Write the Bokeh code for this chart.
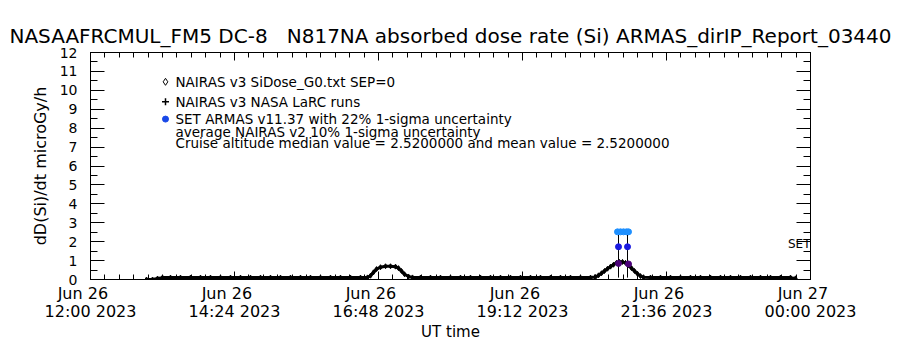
from bokeh.plotting import figure
from bokeh.models import Range1d, LinearAxis, FixedTicker, Label, ColumnDataSource
from bokeh.embed import file_html
from bokeh.resources import INLINE

FONT = "DejaVu Sans"
NB = "\u00a0"

title_text = "NASAAFRCMUL_FM5 DC-8" + NB * 3 + "N817NA absorbed dose rate (Si) ARMAS_dirIP_Report_03440"
y_title = "dD(Si)/dt microGy/h"
x_title = "UT time"

# x tick labels (minutes after Jun 26 12:00 UT)
x_tick_minutes = [0, 144, 288, 432, 576, 720]
x_tick_labels = ["Jun 26\n12:00 2023", "Jun 26\n14:24 2023", "Jun 26\n16:48 2023",
                 "Jun 26\n19:12 2023", "Jun 26\n21:36 2023", "Jun 27\n00:00 2023"]
y_ticks = list(range(0, 13))

legend_labels = ["NAIRAS v3 SiDose_G0.txt SEP=0",
                 "NAIRAS v3 NASA LaRC runs",
                 "SET ARMAS v11.37 with 22% 1-sigma uncertainty",
                 "average NAIRAS v2 10% 1-sigma uncertainty",
                 "Cruise altitude median value = 2.5200000 and mean value = 2.5200000"]

# NAIRAS v3 model dose rate along the flight (UT, microGy/h)
nairas_time = ["12:56", "13:02", "13:07", "13:12",
               "13:20", "13:30", "13:40", "13:50", "14:00", "14:10", "14:20", "14:30", "14:40", "14:50",
               "15:00", "15:10", "15:20", "15:30", "15:40", "15:50", "16:00", "16:10", "16:20", "16:30",
               "16:37", "16:40", "16:43", "16:46", "16:50", "16:55", "17:00", "17:05", "17:08", "17:11",
               "17:14", "17:18", "17:22",
               "17:30", "17:40", "17:50", "18:00", "18:10", "18:20", "18:30", "18:40", "18:50", "19:00",
               "19:10", "19:20", "19:30", "19:40", "19:50", "20:00", "20:10", "20:20",
               "20:25", "20:28", "20:31", "20:34", "20:37", "20:40", "20:43", "20:46", "20:49", "20:52",
               "20:55", "20:58", "21:01", "21:04", "21:07", "21:10", "21:13",
               "21:20", "21:30", "21:40", "21:50", "22:00", "22:10", "22:20", "22:30", "22:40", "22:50",
               "23:00", "23:10", "23:20", "23:30", "23:40", "23:45"]
nairas_dose = [0.0, 0.0, 0.05, 0.1,
               0.1, 0.1, 0.1, 0.1, 0.1, 0.1, 0.1, 0.1, 0.1, 0.1,
               0.1, 0.1, 0.1, 0.1, 0.1, 0.1, 0.1, 0.1, 0.1, 0.1,
               0.11, 0.2, 0.38, 0.55, 0.65, 0.7, 0.7, 0.68, 0.6, 0.45,
               0.28, 0.16, 0.11,
               0.1, 0.1, 0.1, 0.1, 0.1, 0.1, 0.1, 0.1, 0.1, 0.1,
               0.1, 0.1, 0.1, 0.1, 0.1, 0.1, 0.1, 0.1,
               0.13, 0.22, 0.33, 0.45, 0.57, 0.68, 0.78, 0.88, 0.93, 0.93,
               0.88, 0.75, 0.6, 0.45, 0.3, 0.18, 0.12,
               0.1, 0.1, 0.1, 0.1, 0.1, 0.1, 0.1, 0.1, 0.1, 0.1,
               0.1, 0.1, 0.1, 0.1, 0.1, 0.06]

# SET ARMAS measurements
armas_time = ["20:48", "20:57"]
armas_dose = [1.73, 1.73]
armas_err_low = [0.1, 0.1]
armas_err_high = [2.52, 2.52]
# NAIRAS v2 average at ARMAS times
nairas2_time = ["20:48", "20:58"]
nairas2_dose = [0.85, 0.82]
# cruise altitude median
cruise_time = ["20:47", "20:50", "20:53", "20:56", "20:58"]
cruise_dose = [2.52, 2.52, 2.52, 2.52, 2.52]


def minutes(t):
    h, m = t.split(":")
    return (int(h) - 12) * 60 + int(m)


p = figure(width=900, height=350, output_backend="svg", toolbar_location=None,
           x_range=Range1d(0, 720), y_range=Range1d(0, 12),
           x_axis_location=None, y_axis_location=None,
           min_border_left=90, min_border_right=90, min_border_top=52, min_border_bottom=71,
           background_fill_color="white", border_fill_color="white")
p.grid.visible = False
p.outline_line_color = "black"
p.outline_line_width = 1

p.title.text = title_text
p.title.text_font = FONT
p.title.text_font_size = "20px"
p.title.text_font_style = "normal"
p.title.align = "center"
p.title.text_color = "black"

x_minor = [i * 14.4 for i in range(51)]
y_minor = [i * 0.5 for i in range(25)]


def style_axis(ax, maj_in, min_in):
    ax.axis_line_color = "black"
    ax.major_tick_in = maj_in
    ax.major_tick_out = 0
    ax.minor_tick_in = min_in
    ax.minor_tick_out = 0
    ax.major_tick_line_color = "black"
    ax.minor_tick_line_color = "black"
    ax.major_label_text_font = FONT
    ax.major_label_text_color = "black"
    ax.axis_label_text_font = FONT
    ax.axis_label_text_font_style = "normal"
    ax.axis_label_text_color = "black"


def tick_only_axis(minor_ticks, length):
    ax = LinearAxis(ticker=FixedTicker(ticks=[], minor_ticks=minor_ticks))
    style_axis(ax, length, length)
    ax.major_label_standoff = 0
    return ax


bottom = LinearAxis(ticker=FixedTicker(ticks=x_tick_minutes, minor_ticks=x_minor))
style_axis(bottom, 8, 5)
bottom.major_label_overrides = {k: v.replace("\n", NB * 3 + "\n", 1)
                                for k, v in zip(x_tick_minutes, x_tick_labels)}
bottom.major_label_text_font_size = "16px"
bottom.major_label_text_line_height = 0.95
bottom.major_label_standoff = 4
bottom.axis_label = x_title
bottom.axis_label_text_font_size = "15px"
bottom.axis_label_standoff = -1
p.add_layout(bottom, "below")

p.add_layout(tick_only_axis(x_tick_minutes, 8), "above")
p.add_layout(tick_only_axis(x_minor, 5), "above")

left = LinearAxis(ticker=FixedTicker(ticks=y_ticks, minor_ticks=y_minor))
style_axis(left, 14, 7)
left.major_label_text_font_size = "14px"
left.major_label_standoff = 13
left.axis_label = y_title
left.axis_label_text_font_size = "16px"
left.axis_label_standoff = 7
p.add_layout(left, "left")

p.add_layout(tick_only_axis(y_ticks, 14), "right")
p.add_layout(tick_only_axis(y_minor, 7), "right")

# data
src_n = ColumnDataSource(dict(x=[minutes(t) for t in nairas_time], y=nairas_dose))
p.line("x", "y", source=src_n, line_color="black", line_width=3)
p.scatter("x", "y", source=src_n, marker="diamond", size=5, line_color="black", fill_color="black")

p.segment(x0=[minutes(t) for t in armas_time], y0=armas_err_low,
          x1=[minutes(t) for t in armas_time], y1=armas_err_high, line_color="black", line_width=1)
p.scatter([minutes(t) for t in cruise_time], cruise_dose, marker="circle", size=6,
          line_color="#1e90ff", fill_color="#1e90ff")
p.scatter([minutes(t) for t in armas_time], armas_dose, marker="circle", size=6,
          line_color="#1a1ae0", fill_color="#1a1ae0")
p.scatter([minutes(t) for t in nairas2_time], nairas2_dose, marker="circle", size=6,
          line_color="#4b0078", fill_color="#4b0078")

# legend (layout positions in data units)
leg_x_marker = 75
leg_x_text = 85
leg_y = [10.45, 9.4, 8.48, 7.8, 7.22]
p.scatter([leg_x_marker], [leg_y[0]], marker="diamond", size=7, line_color="black", fill_color="white")
p.scatter([leg_x_marker], [leg_y[1]], marker="cross", size=7, line_color="black", line_width=1.5)
p.scatter([leg_x_marker], [leg_y[2]], marker="circle", size=6, line_color="#1848e8", fill_color="#1848e8")
for lbl, yy in zip(legend_labels, leg_y):
    p.add_layout(Label(x=leg_x_text, y=yy, text=lbl, text_font=FONT, text_font_size="13.5px",
                       text_baseline="middle", text_align="left", text_color="black"))

p.add_layout(Label(x=720, y=1.9, text="SET", text_font=FONT, text_font_size="12px",
                   text_baseline="middle", text_align="right", text_color="black"))

open("out.html", "w").write(file_html(p, INLINE))
